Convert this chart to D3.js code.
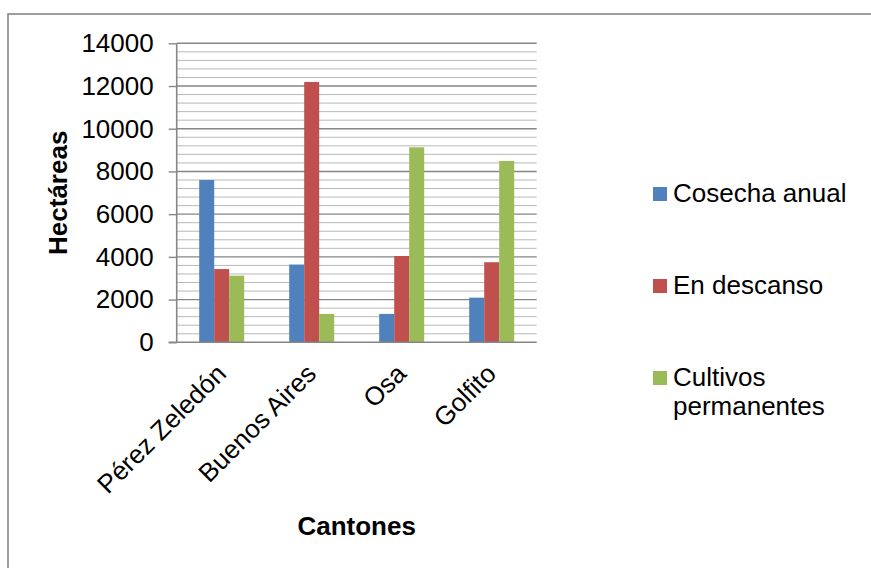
<!DOCTYPE html>
<html>
<head>
<meta charset="utf-8">
<script src="https://cdn.jsdelivr.net/npm/d3@7"></script>
<style>
  html, body { margin: 0; padding: 0; background: #fff; }
  svg { display: block; font-family: "Liberation Sans", Arial, sans-serif; }
</style>
</head>
<body>
<svg id="chart" width="871" height="568"></svg>
<script>
// Land use by canton (hectares)
const cantones = ["Pérez Zeledón", "Buenos Aires", "Osa", "Golfito"];
const seriesNames = ["Cosecha anual", "En descanso", "Cultivos permanentes"];
const cosechaAnual = [7600, 3640, 1330, 2090];
const enDescanso = [3430, 12190, 4040, 3750];
const cultivosPermanentes = [3120, 1330, 9130, 8490];
const seriesColors = ["#4f81bd", "#c0504d", "#9bbb59"];
const yTicks = [0, 2000, 4000, 6000, 8000, 10000, 12000, 14000];
const yMinorTicks = d3.range(0, 14001, 400);

const seriesValues = [cosechaAnual, enDescanso, cultivosPermanentes];

const svg = d3.select("#chart");
const W = 871, H = 568;
const plot = { left: 176.7, right: 536.7, top: 43.3, bottom: 342.3 };
const axisColor = "#868686";
const fontSize = 26;

// outer chart frame
svg.append("rect")
  .attr("x", 8).attr("y", 14)
  .attr("width", W + 10).attr("height", H + 10)
  .attr("fill", "#fff")
  .attr("stroke", axisColor).attr("stroke-width", 1.6);

const x = d3.scaleBand().domain(cantones).range([plot.left, plot.right]).paddingInner(0.5).paddingOuter(0.25);
const xs = d3.scaleBand().domain(seriesNames).range([0, x.bandwidth()]);
const y = d3.scaleLinear().domain([0, 14000]).range([plot.bottom, plot.top]);

// minor gridlines
svg.append("g")
  .selectAll("line")
  .data(yMinorTicks.filter(v => v % 2000 !== 0))
  .join("line")
  .attr("x1", plot.left).attr("x2", plot.right)
  .attr("y1", d => y(d)).attr("y2", d => y(d))
  .attr("stroke", "#b8b8b8").attr("stroke-width", 1);

// major gridlines
svg.append("g")
  .selectAll("line")
  .data(yTicks.filter(v => v > 0))
  .join("line")
  .attr("x1", plot.left).attr("x2", plot.right)
  .attr("y1", d => y(d)).attr("y2", d => y(d))
  .attr("stroke", axisColor).attr("stroke-width", 1.4);

// bars
const rows = [];
cantones.forEach((c, i) => seriesNames.forEach((s, j) => rows.push({ c, s, j, v: seriesValues[j][i] })));
svg.append("g")
  .selectAll("rect")
  .data(rows)
  .join("rect")
  .attr("x", d => x(d.c) + xs(d.s))
  .attr("width", xs.bandwidth())
  .attr("y", d => y(d.v))
  .attr("height", d => y(0) - y(d.v))
  .attr("fill", d => seriesColors[d.j]);

// y axis
const yAxis = svg.append("g")
  .attr("transform", `translate(${plot.left},0)`)
  .call(d3.axisLeft(y).tickValues(yTicks).tickSize(8).tickPadding(15).tickFormat(d3.format("d")));
yAxis.select(".domain").attr("stroke", axisColor).attr("stroke-width", 1.6)
  .attr("d", `M0,${plot.bottom}V${plot.top}`);
yAxis.selectAll(".tick line").attr("stroke", axisColor).attr("stroke-width", 1.4);
yAxis.selectAll(".tick text")
  .attr("font-size", fontSize).attr("fill", "#000")
  .attr("font-family", "Liberation Sans, Arial, sans-serif");

// x axis
const xAxis = svg.append("g")
  .attr("transform", `translate(0,${plot.bottom})`)
  .call(d3.axisBottom(x).tickSize(0).tickPadding(0));
xAxis.select(".domain").attr("stroke", axisColor).attr("stroke-width", 1.6)
  .attr("d", `M${plot.left - 8},0H${plot.right}`);
xAxis.selectAll(".tick text")
  .attr("font-size", fontSize).attr("fill", "#000")
  .attr("font-family", "Liberation Sans, Arial, sans-serif")
  .attr("text-anchor", "end")
  .attr("dy", 0)
  .attr("transform", "translate(6,33) rotate(-45)");

// axis titles
svg.append("text")
  .attr("transform", `translate(67,${(plot.top + plot.bottom) / 2}) rotate(-90)`)
  .attr("text-anchor", "middle")
  .attr("font-size", fontSize).attr("font-weight", "bold")
  .text("Hectáreas");

svg.append("text")
  .attr("x", (plot.left + plot.right) / 2).attr("y", 535)
  .attr("text-anchor", "middle")
  .attr("font-size", fontSize).attr("font-weight", "bold")
  .text("Cantones");

// legend
const legendLines = [["Cosecha anual"], ["En descanso"], ["Cultivos", "permanentes"]];
const legend = svg.append("g").attr("transform", "translate(653,0)");
legendLines.forEach((lines, i) => {
  const g = legend.append("g").attr("transform", `translate(0,${187 + i * 92})`);
  g.append("rect").attr("width", 14).attr("height", 14).attr("fill", seriesColors[i]);
  lines.forEach((t, k) => {
    g.append("text")
      .attr("x", 20).attr("y", 15 + k * 29)
      .attr("font-size", fontSize)
      .text(t);
  });
});
</script>
</body>
</html>
